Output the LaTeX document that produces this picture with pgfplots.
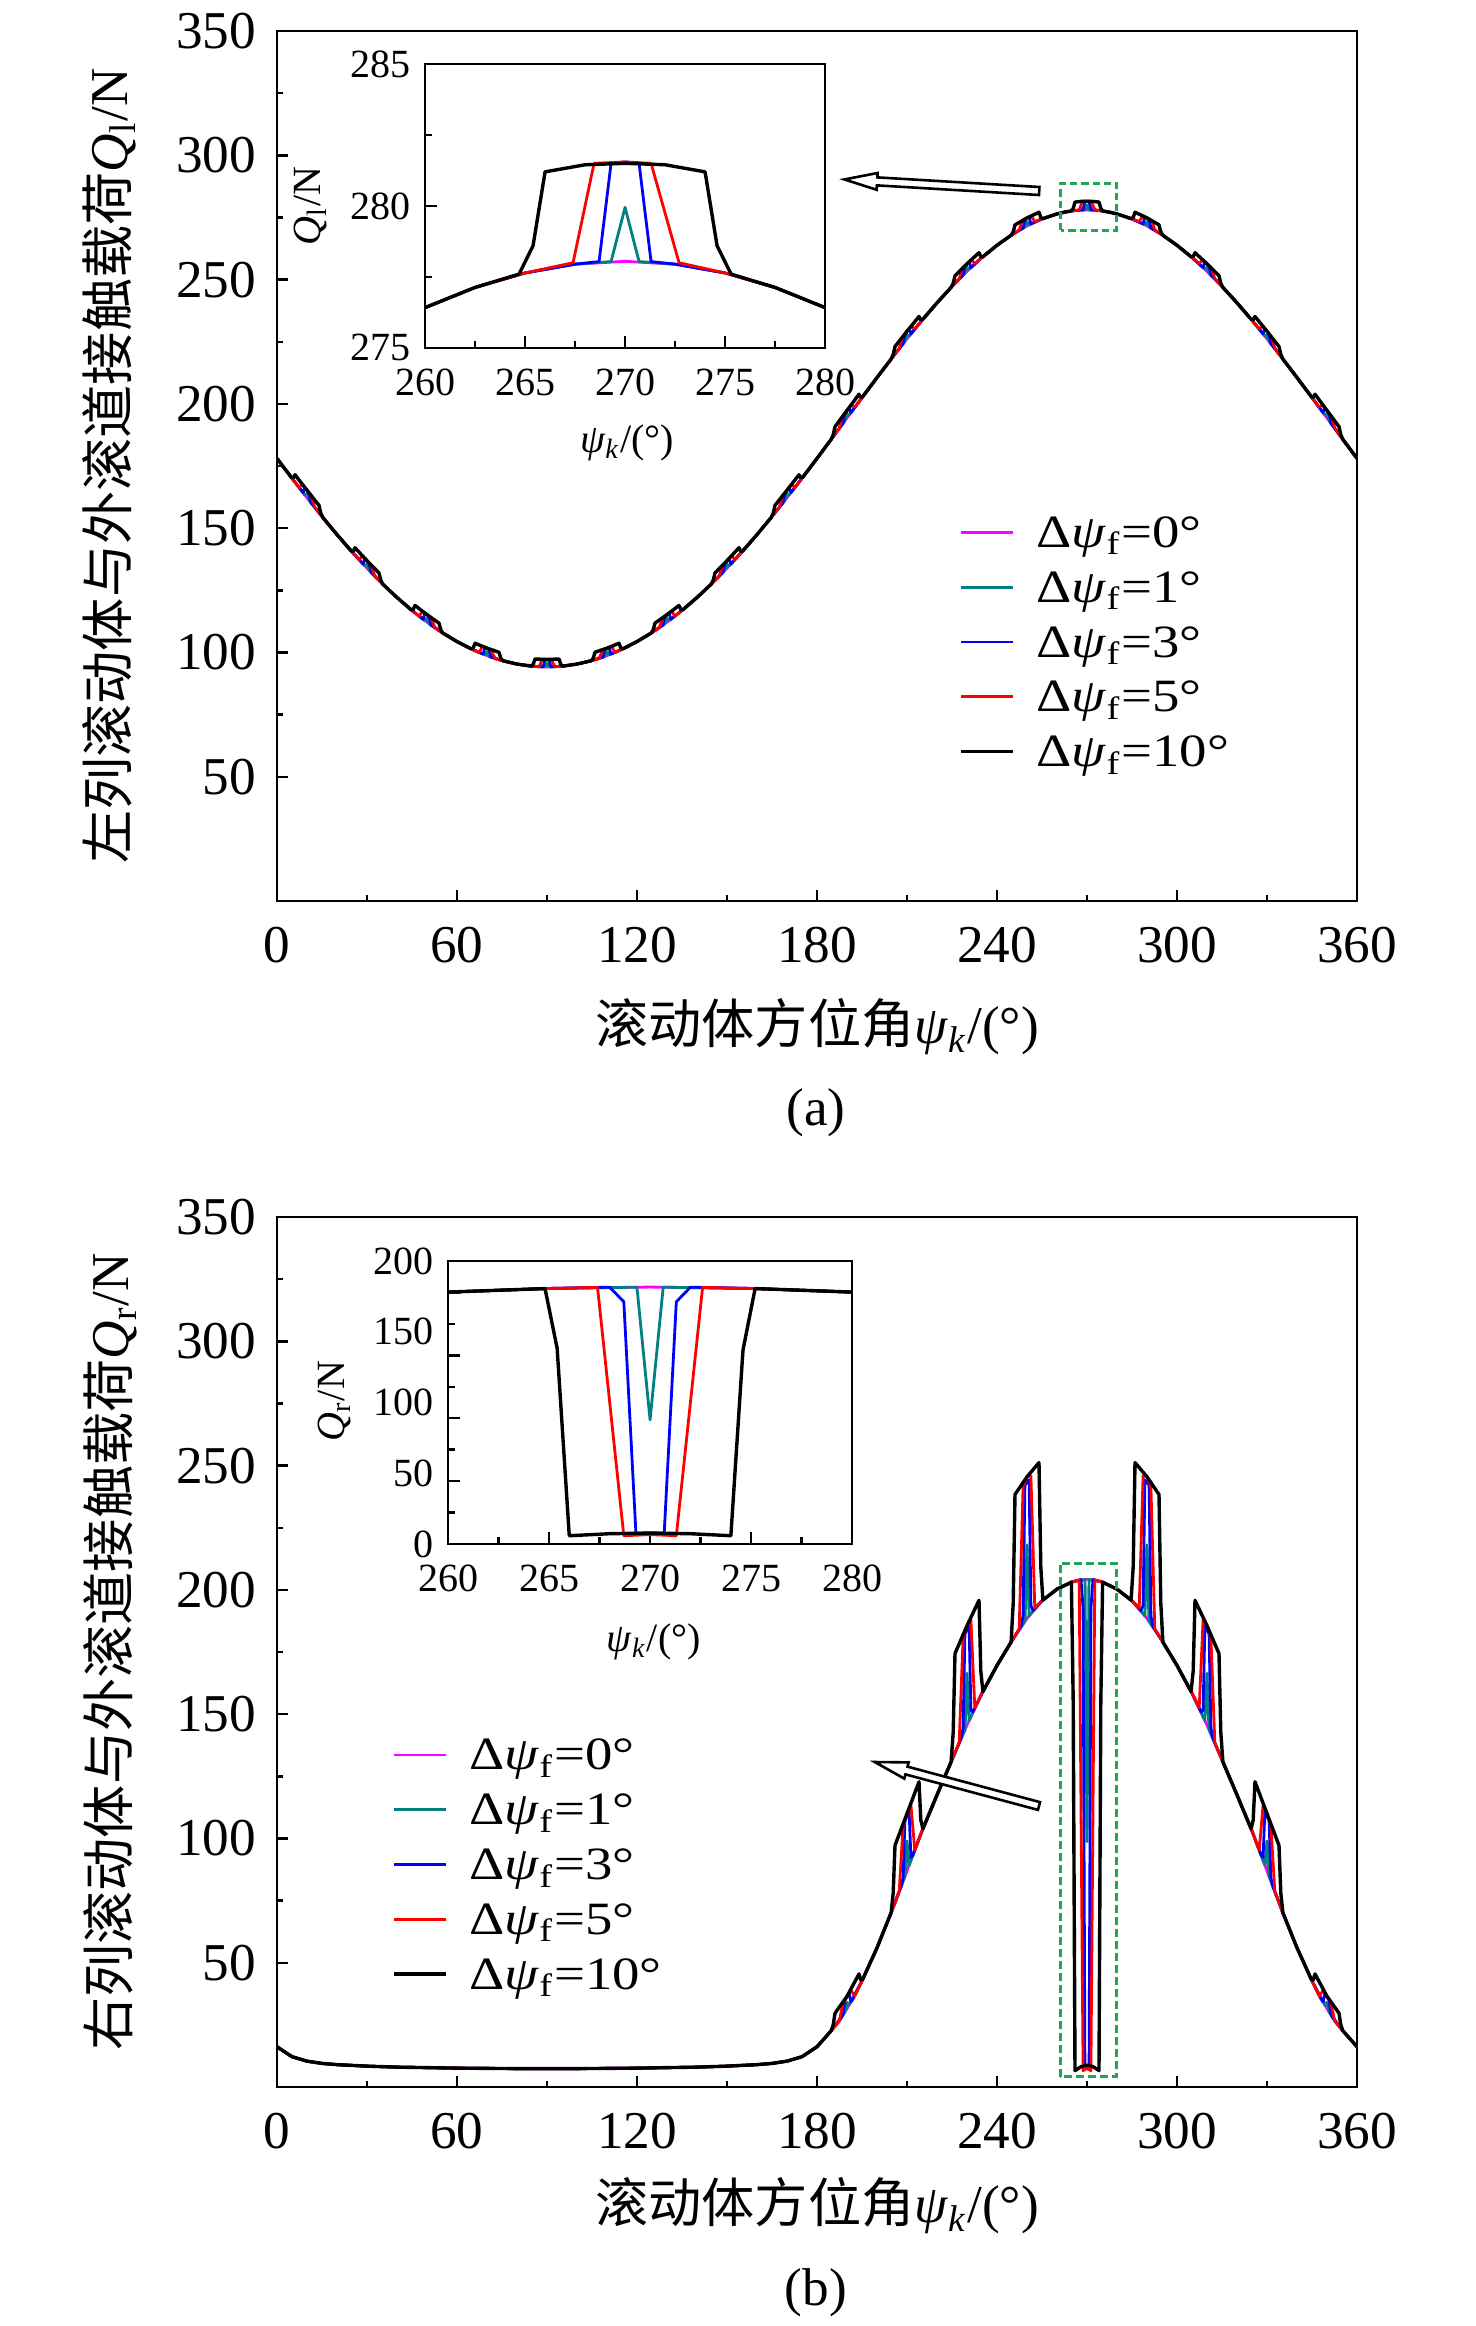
\documentclass[border=0pt]{standalone}
\usepackage{fontspec}
\setmainfont{Liberation Serif}
\newfontfamily\cjk{Noto Sans CJK SC}
\usepackage{graphicx}
\usepackage{pgfplots}
\usepackage{pgfplotstable}
\pgfplotsset{compat=1.18}
\definecolor{cMag}{RGB}{255,0,255}
\definecolor{cTeal}{RGB}{0,128,128}
\definecolor{cBlue}{RGB}{0,0,255}
\definecolor{cRed}{RGB}{255,0,0}
\definecolor{cBox}{RGB}{30,165,85}
\newcommand\mainfs{\fontsize{13.3pt}{16pt}\selectfont}
\newcommand\insfs{\fontsize{10pt}{12pt}\selectfont}

% ---------------- panel (a): left row ----------------
\pgfplotstableread{
psi Q
0 178.06
5 170.07
10 162.26
15 154.69
20 147.41
25 140.47
30 133.92
35 127.78
40 122.10
45 116.89
50 112.19
55 108.01
60 104.37
65 101.27
70 98.72
75 96.74
80 95.32
85 94.46
90 94.18
95 94.46
100 95.32
105 96.74
110 98.72
115 101.27
120 104.37
125 108.01
130 112.19
135 116.89
140 122.10
145 127.78
150 133.92
155 140.47
160 147.41
165 154.69
170 162.26
175 170.07
180 178.06
185 186.17
190 194.34
195 202.50
200 210.58
205 218.50
210 226.20
215 233.61
220 240.64
225 247.25
230 253.35
235 258.88
240 263.81
245 268.06
250 271.61
255 274.40
260 276.42
262.5 277.13
265 277.64
267.5 277.95
270 278.05
272.5 277.95
275 277.64
277.5 277.13
280 276.42
285 274.40
290 271.61
295 268.06
300 263.81
305 258.88
310 253.35
315 247.25
320 240.64
325 233.61
330 226.20
335 218.50
340 210.58
345 202.50
350 194.34
355 186.17
360 178.06
}\aMag

\pgfplotstableread{
psi Q
0 178.06
5 170.07
9.3 163.34
10 163.91
10.7 161.18
15 154.69
20 147.41
25 140.47
29.3 134.81
30 135.57
30.7 133.03
35 127.78
40 122.10
45 116.89
49.3 112.81
50 113.84
50.7 111.57
55 108.01
60 104.37
65 101.27
69.3 99.04
70 100.37
70.7 98.40
75 96.74
80 95.32
85 94.46
89.3 94.18
90 95.83
90.7 94.18
95 94.46
100 95.32
105 96.74
109.3 98.40
110 100.37
110.7 99.04
115 101.27
120 104.37
125 108.01
129.3 111.57
130 113.84
130.7 112.81
135 116.89
140 122.10
145 127.78
149.3 133.03
150 135.57
150.7 134.81
155 140.47
160 147.41
165 154.69
169.3 161.18
170 163.91
170.7 163.34
175 170.07
180 178.06
185 186.17
189.3 193.20
190 195.99
190.7 195.48
195 202.50
200 210.58
205 218.50
209.3 225.14
210 227.85
210.7 227.26
215 233.61
220 240.64
225 247.25
229.3 252.54
230 255.00
230.7 254.16
235 258.88
240 263.81
245 268.06
249.3 271.17
250 273.36
250.7 272.05
255 274.40
260 276.42
262.5 277.13
265 277.64
267.5 277.95
269.3 278.04
270 279.95
270.7 278.04
272.5 277.95
275 277.64
277.5 277.13
280 276.42
285 274.40
289.3 272.05
290 273.36
290.7 271.17
295 268.06
300 263.81
305 258.88
309.3 254.16
310 255.00
310.7 252.54
315 247.25
320 240.64
325 233.61
329.3 227.26
330 227.85
330.7 225.14
335 218.50
340 210.58
345 202.50
349.3 195.48
350 195.99
350.7 193.20
355 186.17
360 178.06
}\aTeal

\pgfplotstableread{
psi Q
0 178.06
5 170.07
8.7 164.26
9.3 166.34
10 165.26
10.7 164.18
11.3 160.26
15 154.69
20 147.41
25 140.47
28.7 135.57
29.3 137.81
30 136.92
30.7 136.03
31.3 132.27
35 127.78
40 122.10
45 116.89
48.7 113.34
49.3 115.81
50 115.19
50.7 114.57
51.3 111.04
55 108.01
60 104.37
65 101.27
68.7 99.31
69.3 102.04
70 101.72
70.7 101.40
71.3 98.13
75 96.74
80 95.32
85 94.46
88.7 94.18
89.3 97.18
90 97.18
90.7 97.18
91.3 94.18
95 94.46
100 95.32
105 96.74
108.7 98.13
109.3 101.40
110 101.72
110.7 102.04
111.3 99.31
115 101.27
120 104.37
125 108.01
128.7 111.04
129.3 114.57
130 115.19
130.7 115.81
131.3 113.34
135 116.89
140 122.10
145 127.78
148.7 132.27
149.3 136.03
150 136.92
150.7 137.81
151.3 135.57
155 140.47
160 147.41
165 154.69
168.7 160.26
169.3 164.18
170 165.26
170.7 166.34
171.3 164.26
175 170.07
180 178.06
185 186.17
188.7 192.22
189.3 196.20
190 197.34
190.7 198.48
191.3 196.46
195 202.50
200 210.58
205 218.50
208.7 224.24
209.3 228.14
210 229.20
210.7 230.26
211.3 228.16
215 233.61
220 240.64
225 247.25
228.7 251.84
229.3 255.54
230 256.35
230.7 257.16
231.3 254.86
235 258.88
240 263.81
245 268.06
248.7 270.79
249.3 274.37
250 274.81
250.7 275.25
251.3 272.43
255 274.40
260 276.42
262.5 277.13
265 277.64
267.5 277.95
268.7 278.04
269.3 281.50
270 281.55
270.7 281.50
271.3 278.04
272.5 277.95
275 277.64
277.5 277.13
280 276.42
285 274.40
288.7 272.43
289.3 275.25
290 274.81
290.7 274.37
291.3 270.79
295 268.06
300 263.81
305 258.88
308.7 254.86
309.3 257.16
310 256.35
310.7 255.54
311.3 251.84
315 247.25
320 240.64
325 233.61
328.7 228.16
329.3 230.26
330 229.20
330.7 228.14
331.3 224.24
335 218.50
340 210.58
345 202.50
348.7 196.46
349.3 198.48
350 197.34
350.7 196.20
351.3 192.22
355 186.17
360 178.06
}\aBlue

\pgfplotstableread{
psi Q
0 178.06
5 170.07
7.4 166.26
8.4 167.72
10 165.26
11.3 163.26
12.7 158.11
15 154.69
20 147.41
25 140.47
27.4 137.22
28.4 138.95
30 136.92
31.3 135.27
32.7 130.49
35 127.78
40 122.10
45 116.89
47.4 114.50
48.4 116.61
50 115.19
51.3 114.04
52.7 109.79
55 108.01
60 104.37
65 101.27
67.4 99.90
68.4 102.45
70 101.72
71.3 101.13
72.7 97.50
75 96.74
80 95.32
85 94.46
87.4 94.26
88.4 97.21
90 97.18
91.3 97.20
92.7 94.26
95 94.46
100 95.32
105 96.74
107.3 97.50
108.7 101.13
110 101.72
111.6 102.45
112.6 99.90
115 101.27
120 104.37
125 108.01
127.3 109.79
128.7 114.04
130 115.19
131.6 116.61
132.6 114.50
135 116.89
140 122.10
145 127.78
147.3 130.49
148.7 135.27
150 136.92
151.6 138.95
152.6 137.22
155 140.47
160 147.41
165 154.69
167.3 158.11
168.7 163.26
170 165.26
171.6 167.72
172.6 166.26
175 170.07
180 178.06
185 186.17
187.4 190.09
188.4 194.73
190 197.34
191.3 199.46
192.7 198.75
195 202.50
200 210.58
205 218.50
207.4 222.27
208.4 226.78
210 229.20
211.3 231.16
212.7 230.28
215 233.61
220 240.64
225 247.25
227.4 250.33
228.4 254.49
230 256.35
231.3 257.86
232.7 256.49
235 258.88
240 263.81
245 268.06
247.4 269.96
248.4 273.80
250 274.81
251.3 275.63
252.7 273.32
255 274.40
260 276.42
262.5 277.13
265 277.64
267.4 278.00
268.45 281.50
270 281.55
271.3 281.50
272.7 278.00
275 277.64
277.5 277.13
280 276.42
285 274.40
287.3 273.32
288.7 275.63
290 274.81
291.6 273.80
292.6 269.96
295 268.06
300 263.81
305 258.88
307.3 256.49
308.7 257.86
310 256.35
311.6 254.49
312.6 250.33
315 247.25
320 240.64
325 233.61
327.3 230.28
328.7 231.16
330 229.20
331.6 226.78
332.6 222.27
335 218.50
340 210.58
345 202.50
347.3 198.75
348.7 199.46
350 197.34
351.6 194.73
352.6 190.09
355 186.17
360 178.06
}\aRed

\pgfplotstableread{
psi Q
0 178.06
4.7 170.55
5.4 170.19
6 171.49
10 165.26
14 159.19
14.6 156.04
15.3 154.24
20 147.41
24.7 140.88
25.4 140.68
26 142.13
30 136.92
34 131.98
34.6 129.01
35.3 127.42
40 122.10
44.7 117.19
45.4 117.25
46 118.91
50 115.19
54 111.80
54.6 109.08
55.3 107.78
60 104.37
64.7 101.44
65.4 101.80
66 103.71
70 101.72
74 100.09
74.6 97.63
75.3 96.64
80 95.32
84.7 94.50
85.4 95.17
86 97.36
90 97.18
94 97.36
94.6 95.17
95.3 94.50
100 95.32
104.7 96.64
105.4 97.63
106 100.09
110 101.72
114 103.71
114.6 101.80
115.3 101.44
120 104.37
124.7 107.78
125.4 109.08
126 111.80
130 115.19
134 118.91
134.6 117.25
135.3 117.19
140 122.10
144.7 127.42
145.4 129.01
146 131.98
150 136.92
154 142.13
154.6 140.68
155.3 140.88
160 147.41
164.7 154.24
165.4 156.04
166 159.19
170 165.26
174 171.49
174.6 170.19
175.3 170.55
180 178.06
184.7 185.69
185.4 187.58
186 190.81
190 197.34
194 203.87
194.6 202.60
195.3 203.00
200 210.58
204.7 218.03
205.4 219.88
206 223.06
210 229.20
214 235.15
214.6 233.78
215.3 234.05
220 240.64
224.7 246.87
225.4 248.51
226 251.52
230 256.35
234 260.82
234.6 259.21
235.3 259.19
240 263.81
244.7 267.82
245.4 269.17
246 272.03
250 274.81
254 277.10
254.6 275.00
255.3 274.54
260 276.42
262.5 277.13
264.7 277.60
265.4 278.60
266 281.20
268 281.45
270 281.50
272 281.45
274 281.20
274.6 278.60
275.3 277.60
277.5 277.13
280 276.42
284.7 274.54
285.4 275.00
286 277.10
290 274.81
294 272.03
294.6 269.17
295.3 267.82
300 263.81
304.7 259.19
305.4 259.21
306 260.82
310 256.35
314 251.52
314.6 248.51
315.3 246.87
320 240.64
324.7 234.05
325.4 233.78
326 235.15
330 229.20
334 223.06
334.6 219.88
335.3 218.03
340 210.58
344.7 203.00
345.4 202.60
346 203.87
350 197.34
354 190.81
354.6 187.58
355.3 185.69
360 178.06
}\aBlack

% ---------------- panel (b): right row ----------------
\pgfplotstableread{
psi Q
0 16.2
5 12.2
10 10.4
15 9.5
20 9.0
30 8.4
40 8.0
50 7.8
60 7.6
70 7.5
80 7.4
90 7.4
100 7.4
110 7.5
120 7.6
130 7.8
140 8.0
150 8.4
160 9.0
165 9.5
170 10.4
175 12.2
180 16.2
185 23.0
190 31.5
195 42.7
200 56.0
205 71.0
210 87.0
215 103.0
220 117.5
225 131.6
230 145.6
235 158.4
240 169.6
245 179.6
250 188.5
255 195.6
260 200.3
265 203.2
270 204.3
275 203.2
280 200.3
285 195.6
290 188.5
295 179.6
300 169.6
305 158.4
310 145.6
315 131.6
320 117.5
325 103.0
330 87.0
335 71.0
340 56.0
345 42.7
350 31.5
355 23.0
360 16.2
}\bMag

\pgfplotstableread{
psi Q
0 16.2
5 12.2
10 10.4
15 9.5
20 9.0
30 8.4
40 8.0
50 7.8
60 7.6
70 7.5
80 7.4
90 7.4
100 7.4
110 7.5
120 7.6
130 7.8
140 8.0
150 8.4
160 9.0
165 9.5
170 10.4
175 12.2
180 16.2
185 23.0
189.35 30.2
190 34.1
190.7 32.9
195 42.7
200 56.0
205 71.0
209.35 84.9
210 99.0
210.7 89.2
215 103.0
220 117.5
225 131.6
229.35 143.9
230 166.4
230.7 147.5
235 158.4
240 169.6
245 179.6
249.35 187.5
250 218.1
250.7 189.6
255 195.6
260 200.3
265 203.2
269.35 204.2
270 98.7
270.65 204.2
275 203.2
280 200.3
285 195.6
289.3 189.6
290 218.1
290.65 187.5
295 179.6
300 169.6
305 158.4
309.3 147.5
310 166.4
310.65 143.9
315 131.6
320 117.5
325 103.0
329.3 89.2
330 99.0
330.65 84.9
335 71.0
340 56.0
345 42.7
349.3 32.9
350 34.1
350.65 30.2
355 23.0
360 16.2
}\bTeal

\pgfplotstableread{
psi Q
0 16.2
5 12.2
10 10.4
15 9.5
20 9.0
30 8.4
40 8.0
50 7.8
60 7.6
70 7.5
80 7.4
90 7.4
100 7.4
110 7.5
120 7.6
130 7.8
140 8.0
150 8.4
160 9.0
165 9.5
170 10.4
175 12.2
180 16.2
185 23.0
188 27.6
188.7 29.2
189.3 34.9
190 36.3
190.7 37.7
191.3 34.3
192 35.4
195 42.7
200 56.0
205 71.0
208 80.6
208.7 84.1
209.3 106.9
210 109.1
210.7 111.3
211.3 92.4
212 93.4
215 103.0
220 117.5
225 131.6
228 140.2
228.7 144.3
229.3 182.1
230 184.0
230.7 185.9
231.3 151.3
232 151.0
235 158.4
240 169.6
245 179.6
248 185.3
248.7 189.5
249.3 242.1
250 243.2
250.7 244.3
251.3 193.7
252 191.7
255 195.6
260 200.3
265 203.2
268 204.2
268.7 192.6
269.3 8.7
270 8.7
270.7 8.7
271.3 192.6
272 204.2
275 203.2
280 200.3
285 195.6
288 191.7
288.7 193.7
289.3 244.3
290 243.2
290.7 242.1
291.3 189.5
292 185.3
295 179.6
300 169.6
305 158.4
308 151.0
308.7 151.3
309.3 185.9
310 184.0
310.7 182.1
311.3 144.3
312 140.2
315 131.6
320 117.5
325 103.0
328 93.4
328.7 92.4
329.3 111.3
330 109.1
330.7 106.9
331.3 84.1
332 80.6
335 71.0
340 56.0
345 42.7
348 35.4
348.7 34.3
349.3 37.7
350 36.3
350.7 34.9
351.3 29.2
352 27.6
355 23.0
360 16.2
}\bBlue

\pgfplotstableread{
psi Q
0 16.2
5 12.2
10 10.4
15 9.5
20 9.0
30 8.4
40 8.0
50 7.8
60 7.6
70 7.5
80 7.4
90 7.4
100 7.4
110 7.5
120 7.6
130 7.8
140 8.0
150 8.4
160 9.0
165 9.5
170 10.4
175 12.2
180 16.2
185 23.0
187.4 26.4
188.7 33.8
190 36.4
191.3 38.9
192.6 36.6
195 42.7
200 56.0
205 71.0
207.4 78.7
208.7 105.1
210 110.0
211.3 113.5
212.6 95.3
215 103.0
220 117.5
225 131.6
227.4 138.6
228.7 180.9
230 185.6
231.3 187.9
232.6 152.6
235 158.4
240 169.6
245 179.6
247.4 184.3
248.7 241.7
250 245.5
251.3 245.9
252.6 192.7
255 195.6
260 200.3
265 203.2
267.4 204.0
268.7 6.6
270 7.5
271.3 6.6
272.6 204.0
275 203.2
280 200.3
285 195.6
287.4 192.7
288.7 245.9
290 245.5
291.3 241.7
292.6 184.3
295 179.6
300 169.6
305 158.4
307.4 152.6
308.7 187.9
310 185.6
311.3 180.9
312.6 138.6
315 131.6
320 117.5
325 103.0
327.4 95.3
328.7 113.5
330 110.0
331.3 105.1
332.6 78.7
335 71.0
340 56.0
345 42.7
347.4 36.6
348.7 38.9
350 36.4
351.3 33.8
352.6 26.4
355 23.0
360 16.2
}\bRed

\pgfplotstableread{
psi Q
0 16.2
5 12.2
10 10.4
15 9.5
20 9.0
30 8.4
40 8.0
50 7.8
60 7.6
70 7.5
80 7.4
90 7.4
100 7.4
110 7.5
120 7.6
130 7.8
140 8.0
150 8.4
160 9.0
165 9.5
170 10.4
175 12.2
180 16.2
184.7 22.6
185.4 24.95
186 29.7
190 36.5
194 45.5
194.6 43.05
195.3 43.5
200 56.0
204.7 70.1
205.4 78.05
206 97.2
210 110.0
214 122.8
214.6 107.45
215.3 103.9
220 117.5
224.7 130.8
225.4 142.7
226 174.4
230 185.6
234 195.8
234.6 167.4
235.3 159.1
240 169.6
244.7 179.0
245.4 194.55
246 238.4
250 245.5
254 251.2
254.6 209.25
255.3 195.9
260 200.3
264.8 203.1
265.4 155.6
266 6.6
268 8.2
270 8.7
272 8.2
274 6.6
274.6 154.2
275.2 203.1
280 200.3
284.7 195.9
285.4 209.25
286 251.2
290 245.5
294 238.4
294.6 194.55
295.3 179.0
300 169.6
304.7 159.1
305.4 167.4
306 195.8
310 185.6
314 174.4
314.6 142.7
315.3 130.8
320 117.5
324.7 103.9
325.4 107.45
326 122.8
330 110.0
334 97.2
334.6 78.05
335.3 70.1
340 56.0
344.7 43.5
345.4 43.05
346 45.5
350 36.5
354 29.7
354.6 24.95
355.3 22.6
360 16.2
}\bBlack

\pgfplotsset{
  cmn/.style={
    scale only axis, axis line style={line width=0.7pt},
    tick pos=left, tick align=inside,
    tick style={line width=0.6pt, black},
    /pgf/number format/assume math mode=true,
    clip=true, axis background/.style={fill=white},
  },
  mainax/.style={cmn,
    width=270pt, height=217.5pt,
    xmin=0, xmax=360, ymin=0, ymax=350,
    xtick={0,60,...,360}, ytick={50,100,...,350},
    minor x tick num=1, minor y tick num=1,
    major tick length=2.75pt, minor tick length=1.5pt,
    ticklabel style={font=\mainfs},
    xticklabel style={yshift=-3pt},
    yticklabel style={xshift=-1.7pt},
    label style={font=\mainfs},
    xlabel style={anchor=center},
    ylabel style={anchor=center},
    legend cell align=left,
    legend style={draw=none, fill=none, anchor=north west, font=\mainfs,
      row sep=-1.8pt, inner sep=0pt, /tikz/column sep=3.4pt},
    legend image code/.code={\draw[##1] (0pt,-0.5pt) -- (13pt,-0.5pt);},
  },
  insax/.style={cmn,
    xmin=260, xmax=280,
    xtick={260,265,...,280}, minor x tick num=1,
    major tick length=3pt, minor tick length=1.8pt,
    ticklabel style={font=\insfs},
    xticklabel style={yshift=-1.8pt},
    label style={font=\insfs},
    xlabel style={anchor=center},
    ylabel style={anchor=center},
  },
  lM/.style={cMag, line width=0.7pt, line join=round},
  lT/.style={cTeal, line width=0.7pt, line join=round},
  lB/.style={cBlue, line width=0.7pt, line join=round},
  lR/.style={cRed, line width=0.7pt, line join=round},
  lK/.style={black, line width=0.85pt, line join=round},
}
\newcommand\lentry[1]{\rule[-3.5pt]{0pt}{13.5pt}\scalebox{1.03}[0.87]{Δ\textit{ψ}\textsubscript{f}=#1°}}

\begin{document}
\begin{tikzpicture}
\useasboundingbox (0pt,0pt) rectangle (369pt,-581.5pt);

% ================= (a) =================
\begin{axis}[mainax, at={(69.25pt,-225.25pt)}, anchor=south west,
  xlabel={{\cjk 滚动体方位角}\textit{ψ}\textsubscript{\textit{k}}/(°)},
  ylabel={{\cjk 左列滚动体与外滚道接触载荷}\textit{Q}\textsubscript{l}/N},
  xlabel style={at={(axis description cs:0.5,-0.1448)}},
  ylabel style={at={(axis description cs:-0.1556,0.5)}},
  legend style={at={(axis description cs:0.6313,0.4625)}}]
\addplot[lM] table {\aMag};   \addlegendentry{\lentry{0}}
\addplot[lT] table {\aTeal};  \addlegendentry{\lentry{1}}
\addplot[lB] table {\aBlue};  \addlegendentry{\lentry{3}}
\addplot[lR] table {\aRed};   \addlegendentry{\lentry{5}}
\addplot[lK] table {\aBlack}; \addlegendentry{\lentry{10}}
\draw[cBox, line width=0.75pt, dash pattern=on 1.8pt off 1pt]
  (axis cs:261.3,269.9) rectangle (axis cs:279.9,288.7);
\end{axis}

\begin{axis}[insax, at={(106.25pt,-87pt)}, anchor=south west,
  width=100pt, height=71pt,
  ymin=275, ymax=285, ytick={275,280,285}, minor y tick num=1,
  xlabel={\textit{ψ}\textsubscript{\textit{k}}/(°)},
  ylabel={\textit{Q}\textsubscript{l}/N},
  xlabel style={at={(axis description cs:0.505,-0.334)}},
  ylabel style={at={(axis description cs:-0.2875,0.5)}}]
\addplot[lM] table {\aMag};
\addplot[lT] table {\aTeal};
\addplot[lB] table {\aBlue};
\addplot[lR] table {\aRed};
\addplot[lK] table {\aBlack};
\end{axis}

% ================= (b) =================
\begin{axis}[mainax, at={(69.25pt,-521.75pt)}, anchor=south west,
  xlabel={{\cjk 滚动体方位角}\textit{ψ}\textsubscript{\textit{k}}/(°)},
  ylabel={{\cjk 右列滚动体与外滚道接触载荷}\textit{Q}\textsubscript{r}/N},
  xlabel style={at={(axis description cs:0.5,-0.1368)}},
  ylabel style={at={(axis description cs:-0.1546,0.5)}},
  legend style={at={(axis description cs:0.1061,0.4206)}}]
\addplot[lM] table {\bMag};   \addlegendentry{\lentry{0}}
\addplot[lT] table {\bTeal};  \addlegendentry{\lentry{1}}
\addplot[lB] table {\bBlue};  \addlegendentry{\lentry{3}}
\addplot[lR] table {\bRed};   \addlegendentry{\lentry{5}}
\addplot[lK] table {\bBlack}; \addlegendentry{\lentry{10}}
\draw[cBox, line width=0.75pt, dash pattern=on 2pt off 1pt]
  (axis cs:261,4.1) rectangle (axis cs:279.9,210.7);
\end{axis}

\begin{axis}[insax, at={(112pt,-386pt)}, anchor=south west,
  width=101pt, height=70.75pt,
  ymin=0, ymax=225, ytick={0,50,100,150,200}, yticklabels={},
  minor y tick num=1,
  extra y ticks={0,56.25,112.5,168.75,225},
  extra y tick labels={0,50,100,150,200},
  extra y tick style={major tick length=0pt},
  xlabel={\textit{ψ}\textsubscript{\textit{k}}/(°)},
  ylabel={\textit{Q}\textsubscript{r}/N},
  xlabel style={at={(axis description cs:0.509,-0.346)}},
  ylabel style={at={(axis description cs:-0.28,0.505)}}]
\addplot[lM] table {\bMag};
\addplot[lT] table {\bTeal};
\addplot[lB] table {\bBlue};
\addplot[lR] table {\bRed};
\addplot[lK] table {\bBlack};
\end{axis}

% hollow arrows
\begin{scope}[shift={(259.8pt,-47.75pt)}, rotate=176.6]
\draw[line width=0.65pt, fill=white] (0pt,1pt) -- (40.6pt,1pt) -- (40.6pt,2.1pt) -- (48.8pt,0pt)
  -- (40.6pt,-2.1pt) -- (40.6pt,-1pt) -- (0pt,-1pt) -- cycle;
\end{scope}
\begin{scope}[shift={(259.75pt,-451.5pt)}, rotate=165]
\draw[line width=0.65pt, fill=white] (0pt,1pt) -- (34.3pt,1pt) -- (34.3pt,2.1pt) -- (42.5pt,0pt)
  -- (34.3pt,-2.1pt) -- (34.3pt,-1pt) -- (0pt,-1pt) -- cycle;
\end{scope}

\node[font=\mainfs] at (204pt,-278.25pt) {(a)};
\node[font=\mainfs] at (204pt,-573.2pt) {(b)};
\end{tikzpicture}
\end{document}
